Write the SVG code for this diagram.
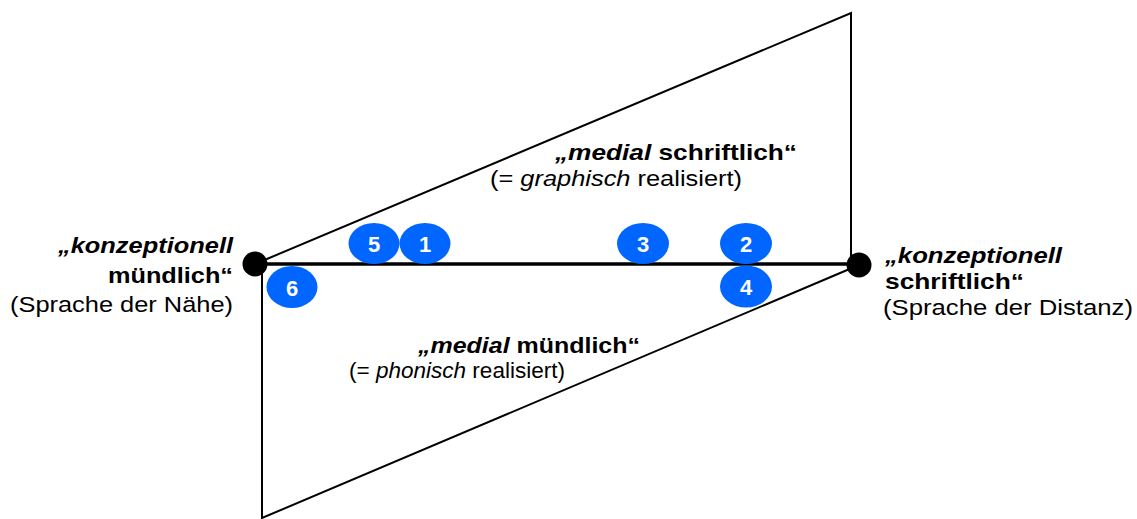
<svg xmlns="http://www.w3.org/2000/svg" width="1137" height="519" viewBox="0 0 1137 519">
  <style>
    .edge { stroke: #000; stroke-width: 2; fill: none; stroke-linecap: round; }
    .axis { stroke: #000; stroke-width: 3.5; fill: none; }
    .dot { fill: #000; }
    .badge { fill: #0066ff; }
    .num { font-family: "Liberation Sans", Arial, sans-serif; font-size: 22px; font-weight: bold; fill: #fff; text-anchor: middle; }
    .lbl { font-family: "Liberation Sans", Arial, sans-serif; font-size: 22px; fill: #000; }
    .b { font-weight: bold; }
    .i { font-style: italic; }
  </style>
  <rect width="1137" height="519" fill="#fff"/>

  <!-- connectors: the two parallelograms and the main axis -->
  <g id="connectors">
    <polyline class="edge" points="255,264 851,13 851,264"/>
    <polyline class="edge" points="262,266 262,518 859,265"/>
    <line class="axis" x1="255" y1="264" x2="859" y2="264"/>
  </g>

  <!-- left pole -->
  <g id="pole-left">
    <circle class="dot" cx="255" cy="264" r="12.5"/>
    <text class="lbl b" x="58" y="253" textLength="175" lengthAdjust="spacingAndGlyphs"><tspan class="i">„konzeptionell</tspan></text>
    <text class="lbl b" x="108" y="283" textLength="125" lengthAdjust="spacingAndGlyphs">mündlich“</text>
    <text class="lbl" x="10" y="312" textLength="223" lengthAdjust="spacingAndGlyphs">(Sprache der Nähe)</text>
  </g>

  <!-- right pole -->
  <g id="pole-right">
    <circle class="dot" cx="859" cy="265" r="12.5"/>
    <text class="lbl b" x="885" y="263" textLength="177" lengthAdjust="spacingAndGlyphs"><tspan class="i">„konzeptionell</tspan></text>
    <text class="lbl b" x="885" y="289" textLength="139" lengthAdjust="spacingAndGlyphs">schriftlich“</text>
    <text class="lbl" x="883" y="315" textLength="250" lengthAdjust="spacingAndGlyphs">(Sprache der Distanz)</text>
  </g>

  <!-- upper area label -->
  <g id="area-written">
    <text class="lbl b" x="555" y="160" textLength="242" lengthAdjust="spacingAndGlyphs"><tspan class="i">„medial</tspan> schriftlich“</text>
    <text class="lbl" x="490" y="186" textLength="252" lengthAdjust="spacingAndGlyphs">(= <tspan class="i">graphisch</tspan> realisiert)</text>
  </g>

  <!-- lower area label -->
  <g id="area-spoken">
    <text class="lbl b" x="418" y="353" textLength="222" lengthAdjust="spacingAndGlyphs"><tspan class="i">„medial</tspan> mündlich“</text>
    <text class="lbl" x="349" y="378" textLength="216" lengthAdjust="spacingAndGlyphs">(= <tspan class="i">phonisch</tspan> realisiert)</text>
  </g>

  <!-- numbered markers -->
  <g id="m5"><ellipse class="badge" cx="374" cy="243.5" rx="25.5" ry="20.5"/><text class="num" x="374" y="252">5</text></g>
  <g id="m1"><ellipse class="badge" cx="425" cy="243.5" rx="25.5" ry="20.5"/><text class="num" x="425" y="252">1</text></g>
  <g id="m3"><ellipse class="badge" cx="643" cy="243.5" rx="26" ry="20.5"/><text class="num" x="643" y="252">3</text></g>
  <g id="m2"><ellipse class="badge" cx="746" cy="243.5" rx="26" ry="20.5"/><text class="num" x="746" y="252">2</text></g>
  <g id="m4"><ellipse class="badge" cx="746" cy="286.5" rx="26" ry="21"/><text class="num" x="746" y="295">4</text></g>
  <g id="m6"><ellipse class="badge" cx="292" cy="287" rx="25.5" ry="21"/><text class="num" x="292" y="295.5">6</text></g>
</svg>
